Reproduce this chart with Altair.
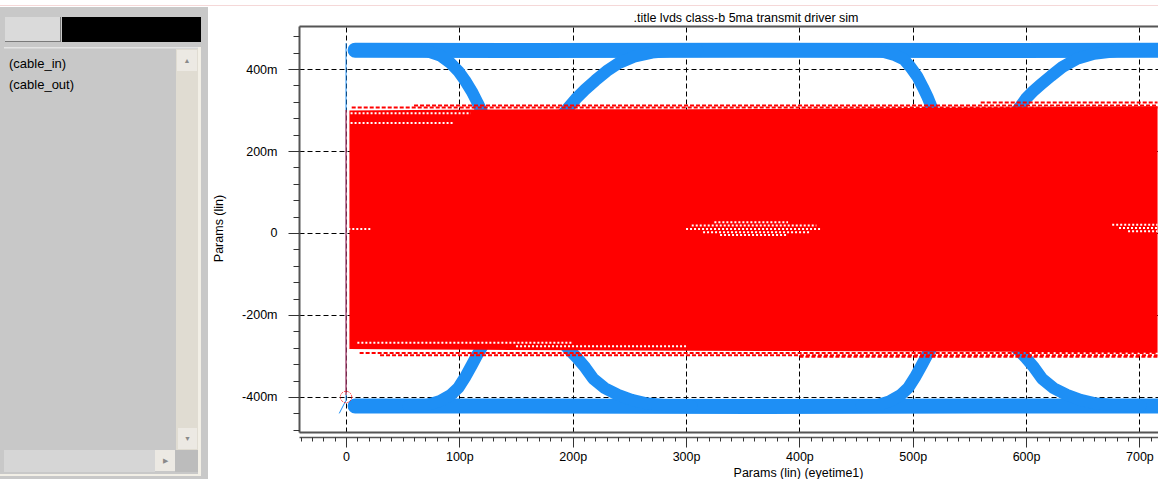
import altair as alt
import pandas as pd

# ---------------- text ----------------
TITLE = ".title lvds class-b 5ma transmit driver sim"
X_TITLE = "Params (lin) (eyetime1)"
Y_TITLE = "Params (lin)"
SIGNALS = ["(cable_in)", "(cable_out)"]

# ---------------- axis ticks ----------------
X_MAJOR = [0, 100, 200, 300, 400, 500, 600, 700]          # p
X_MINOR = list(range(-40, 711, 10))
Y_MAJOR = [-400, -200, 0, 200, 400]                       # m
Y_MINOR = list(range(-480, 481, 40))

# ---------------- blue trace (cable_in) ----------------
BAND_T = [8, 160, 360, 560, 716]
BAND_TOP_V = [446, 445, 446, 445, 446]
BAND_BOT_V = [-422, -422, -423, -422, -422]

FALL_A_T = [55, 72, 83, 92, 99, 105, 111, 116, 120, 125]
FALL_A_V = [446, 443, 433, 415, 395, 372, 345, 318, 295, 270]
RISE_A_T = [55, 72, 83, 92, 99, 105, 111, 116, 120, 125]
RISE_A_V = [-422, -419, -410, -396, -378, -352, -322, -296, -278, -255]

RISE_B_T = [190, 196, 203, 211, 220, 230, 241, 254, 270, 290, 310]
RISE_B_V = [285, 305, 328, 350, 372, 395, 415, 430, 440, 445, 446]
FALL_B_T = [190, 197, 204, 211, 218, 228, 240, 252, 266, 285, 305]
FALL_B_V = [-265, -285, -305, -328, -355, -378, -395, -407, -416, -421, -422]

FALL_C_T = [455, 473, 484, 492, 498, 504, 509, 513, 517, 522]
FALL_C_V = [446, 443, 434, 424, 405, 382, 355, 332, 305, 275]
RISE_C_T = [455, 470, 480, 489, 496, 502, 508, 513, 517, 522]
RISE_C_V = [-422, -419, -410, -396, -378, -352, -322, -296, -278, -255]

RISE_D_T = [588, 594, 600, 606, 613, 622, 632, 645, 660, 680, 705]
RISE_D_V = [285, 305, 328, 345, 362, 383, 405, 425, 437, 444, 446]
FALL_D_T = [586, 593, 600, 607, 614, 624, 636, 648, 662, 681, 701]
FALL_D_V = [-265, -285, -305, -328, -355, -378, -395, -407, -416, -421, -422]

BLUE_VLINE_T = [0]
BLUE_VLINE_TOP = [463]
BLUE_VLINE_BOT = [-408]
BLUE_TAIL_T = [-6, 0]
BLUE_TAIL_V = [-440, -408]

# ---------------- red trace (cable_out) ----------------
RED_T = [3, 60, 120, 200, 300, 400, 500, 600, 716]
RED_TOP = [299, 300, 301, 302, 302, 303, 305, 307, 309]
RED_BOT = [-283, -284, -285, -286, -287, -288, -289, -290, -292]

RED_ROW_T0 = [5, 60, 560, 12, 30, 400]
RED_ROW_T1 = [716, 716, 716, 716, 716, 716]
RED_ROW_V = [306, 311, 318, -293, -298, -302]

GAP_T0 = [4, 4, 10, 150, 325, 305, 300, 315, 330, 676, 682, 690, 2]
GAP_T1 = [110, 95, 200, 300, 390, 415, 420, 410, 390, 716, 716, 716, 22]
GAP_V = [292, 268, -268, -276, 26, 18, 10, 2, -5, 20, 12, 4, 10]

RED_MARK_T = [0]
RED_MARK_V = [-400]
RED_VLINE_TOP = [300]
RED_VLINE_BOT = [-395]

# ---------------- layout ----------------
FONT = "Liberation Sans"
BLUE = "#1e8ff5"
RED = "#ff0000"
OX, OY = 299, 26          # plot origin in page pixels
W, H = 859, 406
XS = alt.Scale(domain=[-41.5, 716.4], nice=False, zero=False)
YS = alt.Scale(domain=[-485.4, 504.9], nice=False, zero=False)
ONE = pd.DataFrame({"k": [0]})


def long_df(series):
    rows = []
    for name, (ts, vs) in series.items():
        for i, (t, v) in enumerate(zip(ts, vs)):
            rows.append({"s": name, "i": i, "t": t, "v": v})
    return pd.DataFrame(rows)


def deco_rect(x1, y1, x2, y2, color):
    return alt.Chart(ONE).mark_rect(color=color).encode(
        x=alt.value(x1 - OX), x2=alt.value(x2 - OX),
        y=alt.value(y1 - OY), y2=alt.value(y2 - OY))


def deco_text(x, y, s, size=13, color="black", align="left", baseline="middle"):
    return alt.Chart(ONE).mark_text(
        align=align, baseline=baseline, fontSize=size, color=color, font=FONT
    ).encode(x=alt.value(x - OX), y=alt.value(y - OY), text=alt.value(s))


# ---------------- axes ----------------
AX_TOP = alt.Axis(orient="top", values=X_MAJOR, grid=True, gridColor="black",
                  gridDash=[5, 3], gridWidth=1, gridOpacity=1, domain=True,
                  domainColor="#555555", domainWidth=2, ticks=False, labels=False, title="")
AX_BOTTOM = alt.Axis(orient="bottom", offset=5, values=X_MAJOR,
                     labelExpr="datum.value == 0 ? '0' : datum.value + 'p'",
                     grid=False, domain=True, domainColor="#555555", domainWidth=1.5,
                     ticks=True, tickSize=10, tickColor="#333333", tickWidth=1,
                     labelFont=FONT, labelFontSize=12.5, labelColor="black", labelPadding=3,
                     labelFlush=False, labelOverlap=False,
                     title=X_TITLE, titleFont=FONT, titleFontSize=12.5, titleFontWeight="normal",
                     titleColor="black", titleX=499, titleY=39, titleAlign="center",
                     titleBaseline="alphabetic")
AX_BOTTOM_MINOR = alt.Axis(orient="bottom", offset=5, values=X_MINOR, grid=False, domain=False,
                           ticks=True, tickSize=4, tickColor="#333333", labels=False, title="")
AX_FRAME_BOTTOM = alt.Axis(orient="bottom", offset=0, grid=False, domain=True,
                           domainColor="#555555", domainWidth=2, ticks=False, labels=False, title="")
AY_MAJOR = alt.Axis(orient="left", values=Y_MAJOR,
                    labelExpr="datum.value == 0 ? '0' : datum.value + 'm'",
                    grid=True, gridColor="black", gridDash=[5, 3], gridWidth=1, gridOpacity=1,
                    domain=True, domainColor="#555555", domainWidth=2,
                    ticks=True, tickSize=11, tickColor="#333333",
                    labelPadding=11, labelFont=FONT, labelFontSize=12.5, labelColor="black",
                    labelFlush=False, labelOverlap=False,
                    title=Y_TITLE, titleFont=FONT, titleFontSize=12.5, titleFontWeight="normal",
                    titleColor="black", titleX=-81, titleY=202, titleAngle=270,
                    titleAlign="center", titleBaseline="middle")
AY_MINOR = alt.Axis(orient="left", values=Y_MINOR, tickSize=6, tickColor="#333333",
                    labels=False, domain=False, grid=False, title="")

# ---------------- data frames ----------------
bands = long_df({"top": (BAND_T, BAND_TOP_V), "bottom": (BAND_T, BAND_BOT_V)})
edges = long_df({
    "fa": (FALL_A_T, FALL_A_V), "ra": (RISE_A_T, RISE_A_V),
    "rb": (RISE_B_T, RISE_B_V), "fb": (FALL_B_T, FALL_B_V),
    "fc": (FALL_C_T, FALL_C_V), "rc": (RISE_C_T, RISE_C_V),
    "rd": (RISE_D_T, RISE_D_V), "fd": (FALL_D_T, FALL_D_V),
})
tail = long_df({"tail": (BLUE_TAIL_T, BLUE_TAIL_V)})
bvl = pd.DataFrame({"t": BLUE_VLINE_T, "a": BLUE_VLINE_TOP, "b": BLUE_VLINE_BOT})
red = pd.DataFrame({"t": RED_T, "top": RED_TOP, "bot": RED_BOT})
rows = pd.DataFrame({"t0": RED_ROW_T0, "t1": RED_ROW_T1, "v": RED_ROW_V})
gaps = pd.DataFrame({"t0": GAP_T0, "t1": GAP_T1, "v": GAP_V})
rvl = pd.DataFrame({"t": RED_MARK_T, "a": RED_VLINE_TOP, "b": RED_VLINE_BOT})
rmark = pd.DataFrame({"t": RED_MARK_T, "v": RED_MARK_V})

# ---------------- left panel decorations ----------------
panel = [
    deco_rect(0, 7, 208, 479, "#c8c8c8"),
    deco_rect(5, 17, 61, 42, "#dadada"),
    deco_rect(60, 17, 61, 42, "#7a7a7a"),
    deco_rect(5, 41, 61, 42, "#7a7a7a"),
    deco_rect(62, 17, 201, 42, "#000000"),
    deco_rect(4, 47, 201, 48.5, "#e4e4e4"),
    deco_rect(176, 49, 198, 450, "#e0dcd2"),
    deco_rect(177, 50, 197, 71, "#ece9e3"),
    deco_rect(178, 428, 197, 449, "#ece9e3"),
    deco_rect(4, 450, 155, 472, "#d6d6d6"),
    deco_rect(155, 450, 175, 471, "#ece9e3"),
    deco_rect(175, 450, 198, 472, "#bcbcbc"),
    deco_rect(198, 47, 201, 476, "#f2efe6"),
    deco_rect(0, 474, 201, 476, "#f2efe6"),
    deco_rect(0, 5, 1158, 6, "#f5d8d8"),
    deco_text(187, 61, "\u25B2", size=7, color="#8a8a8a", align="center"),
    deco_text(187.5, 438.5, "\u25BC", size=7, color="#8a8a8a", align="center"),
    deco_text(165, 461, "\u25B6", size=7, color="#8a8a8a", align="center"),
    deco_text(9, 63.5, SIGNALS[0]),
    deco_text(9, 84.5, SIGNALS[1]),
    deco_text(746, 21.5, TITLE, size=12.5, align="center", baseline="alphabetic"),
]

# ---------------- plot layers ----------------
band_layer = alt.Chart(bands).mark_line(
    color=BLUE, strokeWidth=15, strokeCap="round", strokeJoin="round"
).encode(
    x=alt.X("t:Q", scale=XS, axis=AX_TOP),
    y=alt.Y("v:Q", scale=YS, axis=AY_MAJOR),
    detail="s:N", order="i:Q")

edge_layer = alt.Chart(edges).mark_line(
    color=BLUE, strokeWidth=12, strokeCap="round", strokeJoin="round"
).encode(
    x=alt.X("t:Q", scale=XS, axis=AX_BOTTOM),
    y=alt.Y("v:Q", scale=YS, axis=AY_MINOR),
    detail="s:N", order="i:Q")

bvl_layer = alt.Chart(bvl).mark_rule(color=BLUE, strokeWidth=1).encode(
    x=alt.X("t:Q", scale=XS, axis=None),
    y=alt.Y("a:Q", scale=YS, axis=None), y2="b:Q")

tail_layer = alt.Chart(tail).mark_line(color=BLUE, strokeWidth=1).encode(
    x=alt.X("t:Q", scale=XS, axis=None),
    y=alt.Y("v:Q", scale=YS, axis=None), order="i:Q")

red_layer = alt.Chart(red).mark_area(color=RED, opacity=1).encode(
    x=alt.X("t:Q", scale=XS, axis=AX_BOTTOM_MINOR),
    y=alt.Y("top:Q", scale=YS, axis=None), y2="bot:Q")

rows_layer = alt.Chart(rows).mark_rule(color=RED, strokeWidth=2, strokeDash=[4, 2]).encode(
    x=alt.X("t0:Q", scale=XS, axis=AX_FRAME_BOTTOM), x2="t1:Q",
    y=alt.Y("v:Q", scale=YS, axis=None))

gaps_layer = alt.Chart(gaps).mark_rule(color="white", strokeWidth=2, strokeDash=[2, 2]).encode(
    x=alt.X("t0:Q", scale=XS, axis=None), x2="t1:Q",
    y=alt.Y("v:Q", scale=YS, axis=None))

rvl_layer = alt.Chart(rvl).mark_rule(color=RED, strokeWidth=1, opacity=0.8).encode(
    x=alt.X("t:Q", scale=XS, axis=None),
    y=alt.Y("a:Q", scale=YS, axis=None), y2="b:Q")

rmark_layer = alt.Chart(rmark).mark_point(
    shape="circle", filled=False, color=RED, size=130, strokeWidth=1, strokeDash=[2, 1]
).encode(
    x=alt.X("t:Q", scale=XS, axis=None),
    y=alt.Y("v:Q", scale=YS, axis=None))

chart = alt.layer(
    *panel,
    band_layer, edge_layer, bvl_layer, tail_layer,
    red_layer, rows_layer, gaps_layer, rvl_layer, rmark_layer,
).resolve_axis(x="independent", y="independent").properties(
    width=W, height=H,
    padding={"left": OX, "top": OY, "right": 0, "bottom": 479 - OY - H},
    autosize=alt.AutoSizeParams(type="none"),
).configure_view(strokeWidth=0).configure(background="white")

chart.save("out.html", embed_options={"renderer": "svg", "actions": False})
